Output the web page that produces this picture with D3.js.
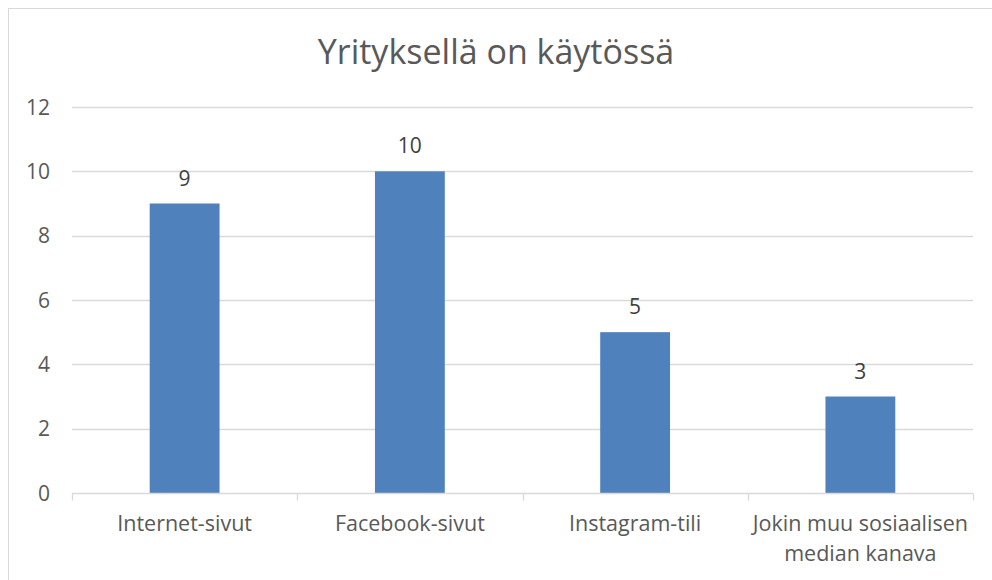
<!DOCTYPE html>
<html><head><meta charset="utf-8">
<script src="https://cdn.jsdelivr.net/npm/d3@7"></script>
<style>
body{margin:0;background:#fff;}
svg{display:block;font-family:"Open Sans", sans-serif;}
</style></head>
<body><svg id="c" width="992" height="580"></svg>
<script>
const title = "Yrityksellä on käytössä";
const categories = ["Internet-sivut","Facebook-sivut","Instagram-tili","Jokin muu sosiaalisen median kanava"];
const labelLines = [["Internet-sivut"],["Facebook-sivut"],["Instagram-tili"],["Jokin muu sosiaalisen","median kanava"]];
const values = [9,10,5,3];
const yTicks = [0,2,4,6,8,10,12];

const svg = d3.select("#c");
const W=992,H=580;
const m={left:72,right:19,top:107,bottom:87};
const textCol="#595959", gridCol="#d9d9d9", barCol="#4f81bd";

svg.append("rect").attr("x",8.5).attr("y",8.5).attr("width",1000).attr("height",600)
  .attr("fill","#fff").attr("stroke",gridCol).attr("stroke-width",1);

const x=d3.scaleBand().domain(categories).range([m.left,W-m.right]).paddingInner(0.69).paddingOuter(0.345);
const xEdges=d3.scaleLinear().domain([0,categories.length]).range([m.left,W-m.right]);
const y=d3.scaleLinear().domain([0,12]).range([H-m.bottom,m.top]);

svg.append("g").selectAll("line").data(yTicks.filter(d=>d>0)).join("line")
  .attr("x1",m.left).attr("x2",W-m.right).attr("y1",d=>Math.round(y(d))+0.5).attr("y2",d=>Math.round(y(d))+0.5)
  .attr("stroke",gridCol).attr("stroke-width",1.3);

svg.append("g").selectAll("text").data(yTicks).join("text")
  .attr("x",50).attr("y",d=>y(d)).attr("dy","0.36em").attr("text-anchor","end")
  .attr("fill",textCol).attr("font-size",21).text(d=>d);

svg.append("g").selectAll("rect").data(values).join("rect")
  .attr("x",(d,i)=>x(categories[i])).attr("width",x.bandwidth())
  .attr("y",d=>y(d)).attr("height",d=>y(0)-y(d)).attr("fill",barCol);

const ay=Math.round(y(0))+0.5;
svg.append("line").attr("x1",m.left).attr("x2",W-m.right).attr("y1",ay).attr("y2",ay).attr("stroke",gridCol).attr("stroke-width",1.3);
svg.append("g").selectAll("line").data(d3.range(categories.length+1)).join("line")
  .attr("x1",d=>Math.round(xEdges(d))+0.5).attr("x2",d=>Math.round(xEdges(d))+0.5)
  .attr("y1",ay).attr("y2",ay+7).attr("stroke",gridCol).attr("stroke-width",1.3);

svg.append("g").selectAll("text").data(values).join("text")
  .attr("x",(d,i)=>x(categories[i])+x.bandwidth()/2).attr("y",d=>y(d)-18)
  .attr("text-anchor","middle").attr("fill","#404040").attr("font-size",21).text(d=>d);

const cl=svg.append("g").selectAll("text").data(labelLines).join("text")
  .attr("x",(d,i)=>x(categories[i])+x.bandwidth()/2).attr("y",531)
  .attr("text-anchor","middle").attr("fill",textCol).attr("font-size",21.5);
cl.selectAll("tspan").data(d=>d).join("tspan")
  .attr("x",function(){return this.parentNode.getAttribute("x");})
  .attr("dy",(d,i)=>i===0?0:30).text(d=>d);

svg.append("text").attr("x",496).attr("y",64).attr("text-anchor","middle")
  .attr("fill",textCol).attr("font-size",34).text(title);
</script></body></html>
